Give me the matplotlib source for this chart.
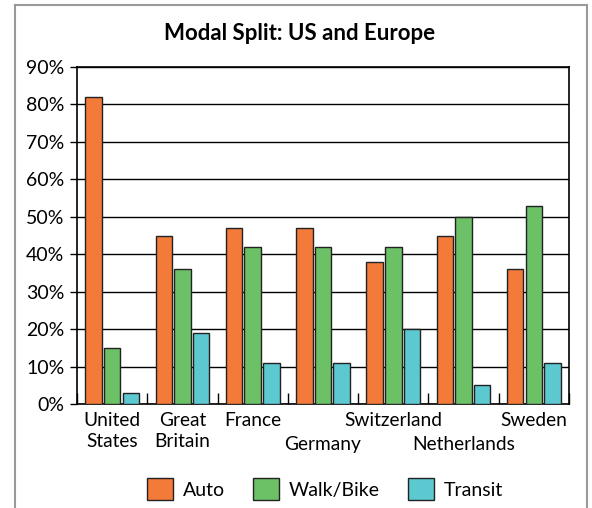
import matplotlib
matplotlib.use("Agg")
import matplotlib.pyplot as plt
import numpy as np
from matplotlib.patches import Patch
from matplotlib.lines import Line2D

countries = ["United\nStates", "Great\nBritain", "France", "Germany",
             "Switzerland", "Netherlands", "Sweden"]
label_row = [0, 0, 0, 1, 0, 1, 0]
auto = [82, 45, 47, 47, 38, 45, 36]
walk_bike = [15, 36, 42, 42, 42, 50, 53]
transit = [3, 19, 11, 11, 20, 5, 11]
series_names = ["Auto", "Walk/Bike", "Transit"]
colors = ["#F47A3A", "#6CC066", "#5CC8D0"]
yticks = [0, 10, 20, 30, 40, 50, 60, 70, 80, 90]

plt.rcParams['font.family'] = ['Lato', 'DejaVu Sans']

fig = plt.figure(figsize=(5.92, 5.08), dpi=100)
W, H = 592, 508
ax = fig.add_axes([77 / W, 1 - 404 / H, (569 - 77) / W, (404 - 67) / H])

x = np.arange(len(countries))
bw = 0.235
off = 0.265
for i, (vals, c) in enumerate(zip([auto, walk_bike, transit], colors)):
    ax.bar(x + (i - 1) * off, vals, width=bw, color=c, edgecolor="#222222",
           linewidth=1.0, zorder=3, label=series_names[i])

ax.set_xlim(-0.5, len(countries) - 0.5)
ax.set_ylim(0, 90)
ax.set_yticks(yticks)
ax.set_yticklabels([f"{v}%" for v in yticks], fontsize=14)
ax.yaxis.grid(True, color="black", linewidth=1.0, zorder=1)
ax.tick_params(axis="y", length=5, width=1, pad=4, direction="out")

ax.set_xticks(x)
ax.set_xticklabels([])
ax.tick_params(axis="x", length=0)
ax.set_xticks(np.arange(len(countries) + 1) - 0.5, minor=True)
ax.tick_params(axis="x", which="minor", length=8, width=1, direction="in")
trans = ax.get_xaxis_transform()
for xi, lab, row in zip(x, countries, label_row):
    ax.text(xi, -(8 + 24 * row) / 337, lab, transform=trans, ha="center",
            va="top", fontsize=13.8, linespacing=1.3)
for s in ax.spines.values():
    s.set_linewidth(1.2)
    s.set_color("black")

fig.text(300 / W, 1 - 33 / H, "Modal Split: US and Europe", ha="center",
         va="center", fontsize=16, fontweight="bold")

handles = [Patch(facecolor=c, edgecolor="#222222", label=n)
           for c, n in zip(colors, series_names)]
fig.legend(handles=handles, loc="center", bbox_to_anchor=(325 / W, 1 - 489 / H),
           ncol=3, frameon=False, fontsize=14, handlelength=1.35,
           handleheight=1.3, handletextpad=0.5, columnspacing=1.45)

# outer frame (open bottom)
fc = "#999999"
fig.add_artist(Line2D([15 / W, 15 / W], [0, 1 - 5 / H], transform=fig.transFigure, color=fc, lw=1.5))
fig.add_artist(Line2D([587 / W, 587 / W], [0, 1 - 5 / H], transform=fig.transFigure, color=fc, lw=1.5))
fig.add_artist(Line2D([15 / W, 587 / W], [1 - 5 / H, 1 - 5 / H], transform=fig.transFigure, color=fc, lw=1.5))

fig.savefig("out.png", dpi=100)
